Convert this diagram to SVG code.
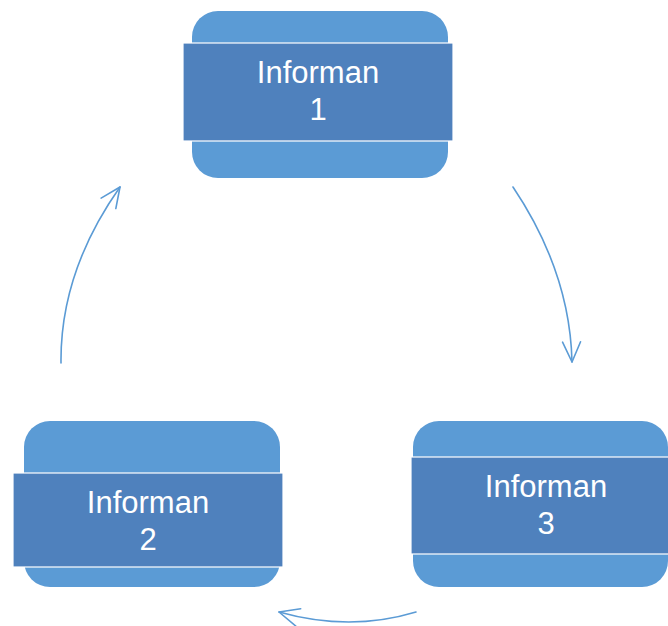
<svg xmlns="http://www.w3.org/2000/svg" width="668" height="626" viewBox="0 0 668 626">
<defs>
<style>
.outer{fill:#5B9BD5;}
.inner{fill:#4F81BD;stroke:#FFFFFF;stroke-width:1.2;}
.lbl{font-family:"Liberation Sans",Arial,sans-serif;font-size:31px;fill:#FFFFFF;text-anchor:middle;}
.conn{fill:none;stroke:#5B9BD5;stroke-width:1.6;stroke-linecap:round;}
</style>
<marker id="arr" markerUnits="userSpaceOnUse" markerWidth="40" markerHeight="40" refX="0" refY="0" viewBox="-25 -20 30 40" orient="auto" overflow="visible">
<path d="M-20,-9 L0,0 L-20,9" fill="none" stroke="#5B9BD5" stroke-width="1.6" stroke-linecap="round" stroke-linejoin="round"/>
</marker>
</defs>
<rect width="668" height="626" fill="#FFFFFF"/>
<g id="connectors">
<path class="conn" d="M61,363 Q60,272 120,187" marker-end="url(#arr)"/>
<path class="conn" d="M513,187 Q570,272 572,362" marker-end="url(#arr)"/>
<path class="conn" d="M416,612 Q350,632 279,612" marker-end="url(#arr)"/>
</g>
<g id="node1">
<rect class="outer" x="192" y="11" width="256" height="167" rx="26"/>
<rect class="inner" x="183" y="43" width="270" height="98"/>
<text class="lbl" x="318" y="83">Informan</text>
<text class="lbl" x="318" y="120">1</text>
</g>
<g id="node2">
<rect class="outer" x="24" y="421" width="256" height="166" rx="26"/>
<rect class="inner" x="13" y="473" width="270" height="94"/>
<text class="lbl" x="148" y="513">Informan</text>
<text class="lbl" x="148" y="550">2</text>
</g>
<g id="node3">
<rect class="outer" x="413" y="421" width="255" height="166" rx="26"/>
<rect class="inner" x="411" y="457" width="260" height="97"/>
<text class="lbl" x="546" y="497">Informan</text>
<text class="lbl" x="546" y="534">3</text>
</g>
</svg>
